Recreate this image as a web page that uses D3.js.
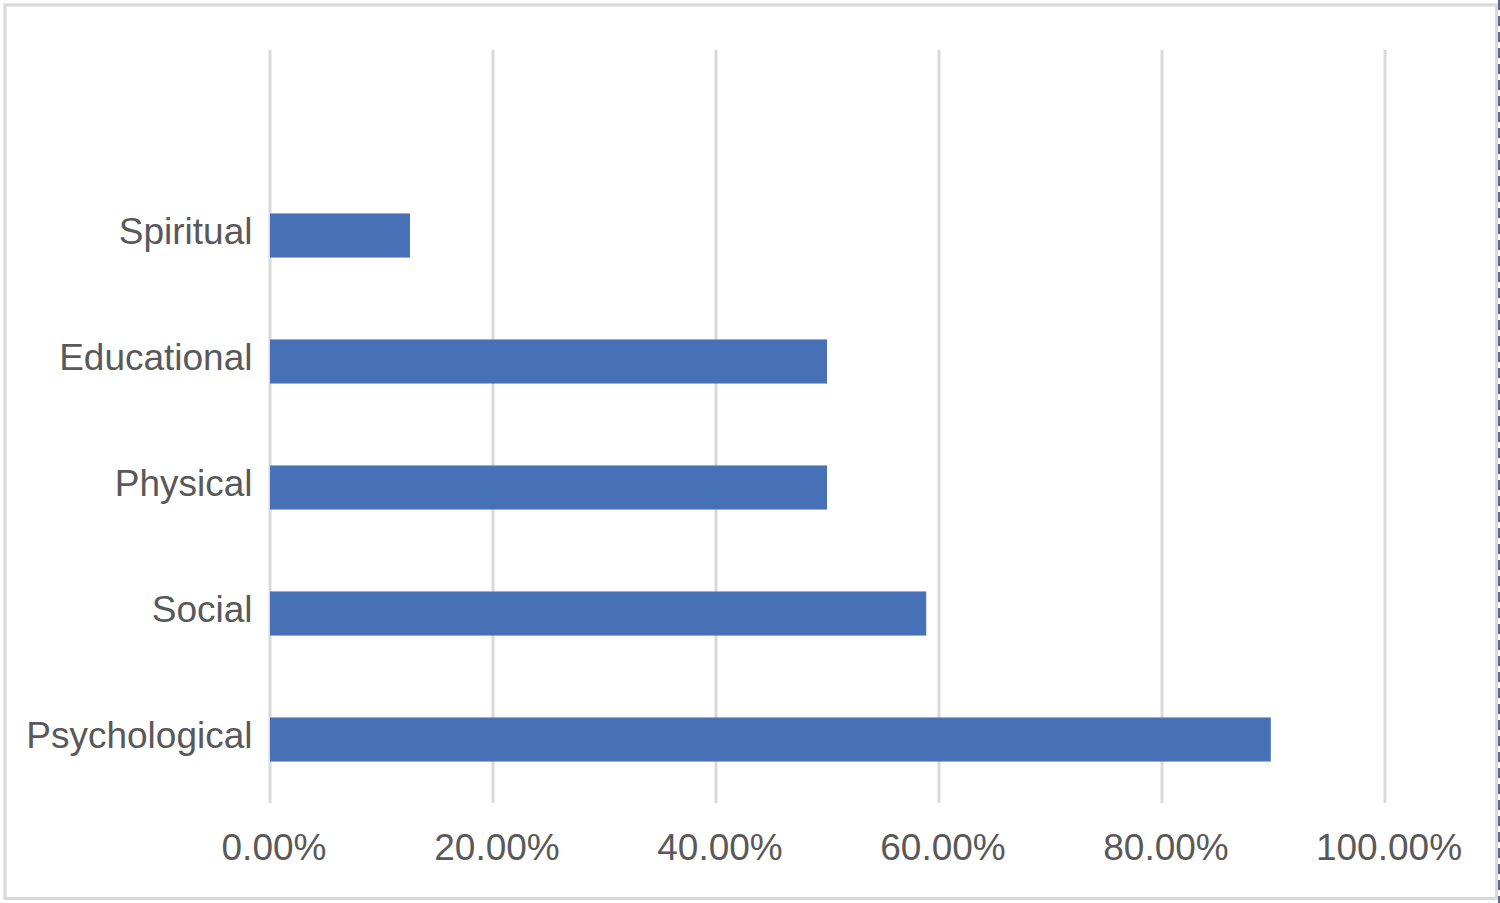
<!DOCTYPE html>
<html>
<head>
<meta charset="utf-8">
<script src="https://cdn.jsdelivr.net/npm/d3@7"></script>
<style>
  html, body { margin: 0; padding: 0; background: #fff; }
  svg { display: block; }
  text { font-family: "Liberation Sans", Arial, Helvetica, sans-serif; }
</style>
</head>
<body>
<svg id="chart" width="1500" height="903"></svg>
<script>
const categories = ["Spiritual", "Educational", "Physical", "Social", "Psychological"];
const values = [0.126, 0.50, 0.50, 0.589, 0.898];
const xTicks = [0, 0.2, 0.4, 0.6, 0.8, 1.0];

const svg = d3.select("#chart");
const W = 1500, H = 903;

// frame
svg.append("rect")
  .attr("x", 5).attr("y", 5)
  .attr("width", 1491.5).attr("height", 893.5)
  .attr("fill", "#fff")
  .attr("stroke", "#d9d9d9")
  .attr("stroke-width", 3.2);

// dashed artifact at right edge
svg.append("line")
  .attr("x1", 1499).attr("x2", 1499)
  .attr("y1", 0).attr("y2", H)
  .attr("stroke", "#3a3f7a")
  .attr("stroke-width", 1.6)
  .attr("stroke-dasharray", "10,6");

const x = d3.scaleLinear().domain([0, 1]).range([269.5, 1384.5]);
const y = d3.scaleBand().domain(categories).range([172.5, 802.5])
  .paddingInner(0.65).paddingOuter(0.325);

const gridTop = 50, gridBottom = 803;

// x axis with gridlines
const xAxis = svg.append("g")
  .attr("transform", `translate(0,${gridBottom})`)
  .call(d3.axisBottom(x).tickValues(xTicks)
    .tickFormat(d3.format(".2%"))
    .tickSize(-(gridBottom - gridTop))
    .tickPadding(0));
xAxis.select(".domain").remove();
xAxis.selectAll(".tick line")
  .attr("stroke", "#d9d9d9")
  .attr("stroke-width", 3);
xAxis.selectAll(".tick text")
  .attr("y", 57)
  .attr("dy", 0)
  .attr("dx", 4)
  .attr("fill", "#595959")
  .attr("font-size", 37)
  .style("font-family", "'Liberation Sans', Arial, Helvetica, sans-serif");

// bars
svg.append("g").selectAll("rect")
  .data(categories)
  .join("rect")
  .attr("x", x(0) + 0.5)
  .attr("y", d => y(d))
  .attr("width", (d, i) => x(values[i]) - x(0) - 0.5)
  .attr("height", y.bandwidth())
  .attr("fill", "#4771b7");

// y axis labels
const yAxis = svg.append("g")
  .attr("transform", `translate(${x(0)},0)`)
  .call(d3.axisLeft(y).tickSize(0).tickPadding(17));
yAxis.select(".domain").remove();
yAxis.selectAll(".tick text")
  .attr("dy", "0.22em")
  .attr("fill", "#595959")
  .attr("font-size", 37)
  .style("font-family", "'Liberation Sans', Arial, Helvetica, sans-serif");
</script>
</body>
</html>
